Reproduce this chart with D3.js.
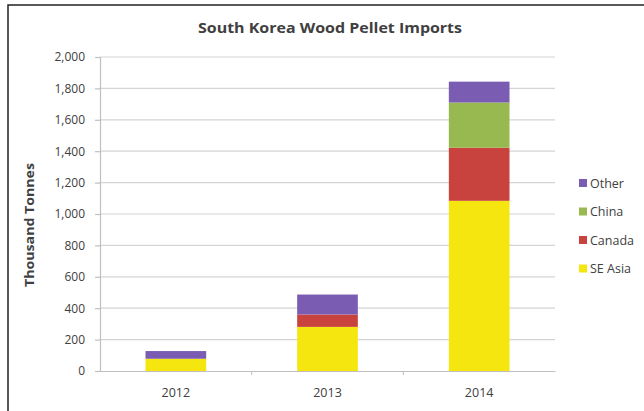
<!DOCTYPE html>
<html>
<head>
<meta charset="utf-8">
<script src="https://cdn.jsdelivr.net/npm/d3@7"></script>
<style>
  html, body { margin: 0; padding: 0; background: #fff; }
  svg { display: block; }
  text { font-family: "Open Sans", Lato, sans-serif; fill: #404040; }
</style>
</head>
<body>
<svg id="chart" width="644" height="411"></svg>
<script>
// Imports by origin, thousand tonnes
const years = ["2012", "2013", "2014"];
const seAsia = [78, 281, 1084];
const canada = [0, 79, 338];
const china = [0, 0, 288];
const other = [49, 127, 133];
const seriesNames = ["SE Asia", "Canada", "China", "Other"];
const seriesColors = ["#f5e60f", "#c8423e", "#97b94f", "#7a5db2"];
const yTicks = [0, 200, 400, 600, 800, 1000, 1200, 1400, 1600, 1800, 2000];

const rows = years.map((y, i) => ({
  year: y,
  "SE Asia": seAsia[i],
  "Canada": canada[i],
  "China": china[i],
  "Other": other[i]
}));

const svg = d3.select("#chart");
const plot = { left: 100, right: 555, top: 57, bottom: 371 };
const labelFont = "'Open Sans', Lato, sans-serif";

// outer frame
svg.append("rect")
  .attr("x", 8).attr("y", 5)
  .attr("width", 700).attr("height", 500)
  .attr("fill", "none").attr("stroke", "#222").attr("stroke-width", 1.5);

const x = d3.scaleBand().domain(years).range([plot.left, plot.right]).paddingInner(0.6).paddingOuter(0.3);
const y = d3.scaleLinear().domain([0, 2000]).range([plot.bottom, plot.top]);

// horizontal gridlines
svg.append("g").selectAll("line").data(yTicks.filter(t => t > 0)).join("line")
  .attr("x1", plot.left).attr("x2", plot.right)
  .attr("y1", d => y(d)).attr("y2", d => y(d))
  .attr("stroke", "#d4d4d4").attr("stroke-width", 1.2);

// y axis
const yAxis = svg.append("g").attr("transform", `translate(${plot.left},0)`)
  .call(d3.axisLeft(y).tickValues(yTicks).tickSize(5).tickPadding(10).tickFormat(d3.format(",")));
yAxis.select(".domain").attr("stroke", "#bfbfbf").attr("stroke-width", 1.2);
yAxis.selectAll(".tick line").attr("stroke", "#bfbfbf").attr("stroke-width", 1.2);
yAxis.selectAll("text").attr("font-size", 12).attr("fill", "#404040")
  .style("font-family", labelFont);

// stacked bars
const stack = d3.stack().keys(seriesNames)(rows);
const color = d3.scaleOrdinal().domain(seriesNames).range(seriesColors);
svg.append("g").selectAll("g").data(stack).join("g")
  .attr("fill", d => color(d.key))
  .selectAll("rect").data(d => d).join("rect")
  .attr("x", d => x(d.data.year))
  .attr("width", x.bandwidth())
  .attr("y", d => y(d[1]))
  .attr("height", d => y(d[0]) - y(d[1]));

// x axis
const xAxis = svg.append("g").attr("transform", `translate(0,${plot.bottom})`)
  .call(d3.axisBottom(x).tickSize(0).tickPadding(17));
xAxis.select(".domain").attr("stroke", "#bfbfbf").attr("stroke-width", 1.2);
xAxis.selectAll("text").attr("font-size", 12.5).attr("fill", "#404040")
  .style("font-family", labelFont);
// category separators
const step = x.step();
const bounds = years.slice(1).map(yr => x(yr) - (step - x.bandwidth()) / 2);
svg.append("g").selectAll("line").data(bounds).join("line")
  .attr("x1", d => d).attr("x2", d => d)
  .attr("y1", plot.bottom).attr("y2", plot.bottom + 4)
  .attr("stroke", "#bfbfbf");

// title
svg.append("text")
  .attr("x", 330).attr("y", 33)
  .attr("text-anchor", "middle")
  .attr("font-size", 15).attr("font-weight", "bold").attr("fill", "#1a1a1a")
  .attr("textLength", 264).attr("lengthAdjust", "spacingAndGlyphs")
  .text("South Korea Wood Pellet Imports");

// y axis title
svg.append("text")
  .attr("transform", "translate(34,225) rotate(-90)")
  .attr("text-anchor", "middle")
  .attr("font-size", 12).attr("font-weight", "bold").attr("fill", "#1a1a1a")
  .attr("textLength", 124).attr("lengthAdjust", "spacingAndGlyphs")
  .text("Thousand Tonnes");

// legend (top item is the top of the stack)
const legendItems = seriesNames.slice().reverse();
const legend = svg.append("g").attr("transform", "translate(579,183)");
const li = legend.selectAll("g").data(legendItems).join("g")
  .attr("transform", (d, i) => `translate(0,${i * 28.5})`);
li.append("rect").attr("x", 0).attr("y", -4).attr("width", 8).attr("height", 8)
  .attr("fill", d => color(d));
li.append("text").attr("x", 11).attr("y", 4.5)
  .attr("font-size", 12.5).attr("fill", "#404040")
  .text(d => d);
</script>
</body>
</html>
